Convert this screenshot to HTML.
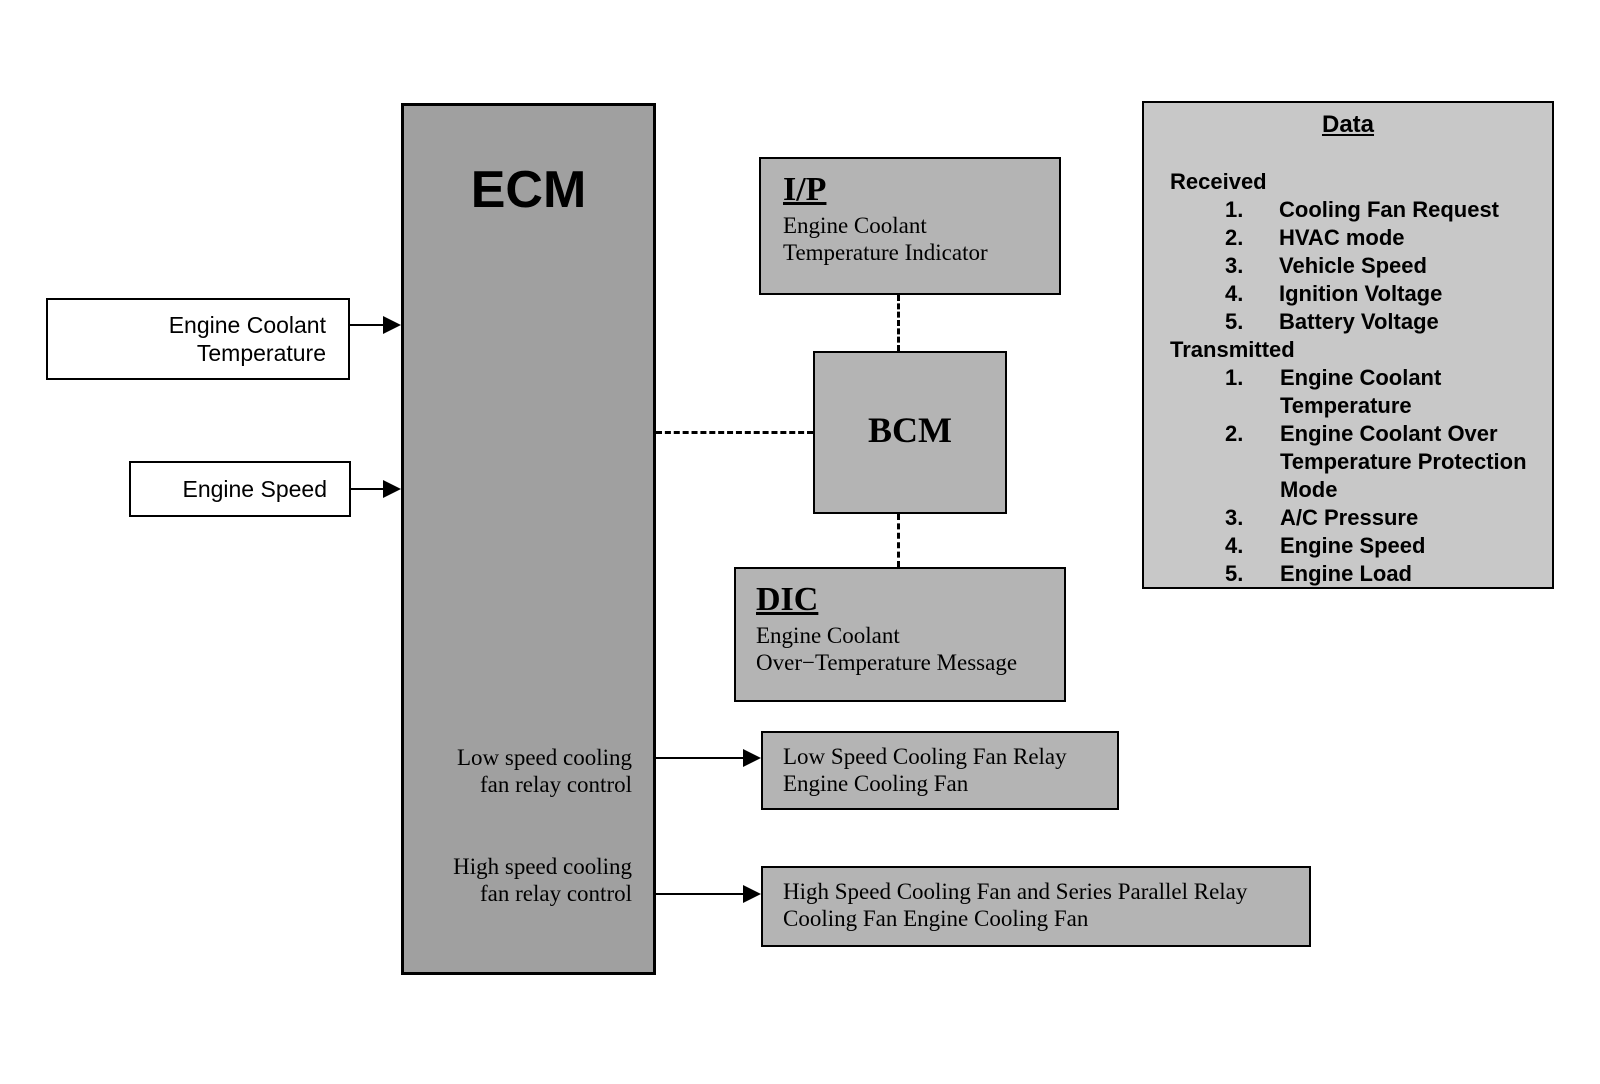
<!DOCTYPE html>
<html><head><meta charset="utf-8"><style>
body{margin:0;width:1600px;height:1084px;background:#fff;position:relative;overflow:hidden;font-family:"Liberation Sans",sans-serif;}
.b{position:absolute;box-sizing:border-box;border:2px solid #000;}
.g1{background:#a0a0a0;}
.g2{background:#b4b4b4;}
.g3{background:#c8c8c8;}
.t{position:absolute;white-space:nowrap;}
.s{font-family:"Liberation Serif",serif;font-size:23px;line-height:27px;}
.d{font-size:22px;line-height:28px;font-weight:bold;}
.h{position:absolute;height:2px;background:#000;}
.v{position:absolute;width:0;border-left:3px dashed #000;}
.hd{position:absolute;height:0;border-top:3px dashed #000;}
.ar{position:absolute;width:0;height:0;border-top:9px solid transparent;border-bottom:9px solid transparent;border-left:18px solid #000;}
</style></head><body>
<div class="b g1" style="left:401px;top:103px;width:255px;height:872px;border-width:3px;"></div>
<div class="t" style="left:401px;width:255px;top:160px;text-align:center;font-weight:bold;font-size:52px;">ECM</div>
<div class="t s" style="left:400px;width:232px;top:744px;text-align:right;">Low speed cooling<br>fan relay control</div>
<div class="t s" style="left:400px;width:232px;top:853px;text-align:right;">High speed cooling<br>fan relay control</div>

<div class="b" style="left:46px;top:298px;width:304px;height:82px;"></div>
<div class="t" style="left:46px;width:280px;top:311px;text-align:right;font-size:23px;line-height:28px;">Engine Coolant<br>Temperature</div>
<div class="b" style="left:129px;top:461px;width:222px;height:56px;"></div>
<div class="t" style="left:129px;width:198px;top:475px;text-align:right;font-size:23px;line-height:28px;">Engine Speed</div>
<div class="h" style="left:350px;top:324px;width:34px;"></div><div class="ar" style="left:383px;top:316px;"></div>
<div class="h" style="left:351px;top:488px;width:33px;"></div><div class="ar" style="left:383px;top:480px;"></div>

<div class="b g2" style="left:759px;top:157px;width:302px;height:138px;"></div>
<div class="t s" style="left:783px;top:172px;font-size:34px;font-weight:bold;text-decoration:underline;line-height:36px;">I/P</div>
<div class="t s" style="left:783px;top:212px;">Engine Coolant<br>Temperature Indicator</div>

<div class="b g2" style="left:813px;top:351px;width:194px;height:163px;"></div>
<div class="t s" style="left:813px;width:194px;top:410px;text-align:center;font-size:36px;font-weight:bold;line-height:40px;">BCM</div>
<div class="v" style="left:897px;top:295px;height:56px;"></div>
<div class="v" style="left:897px;top:514px;height:53px;"></div>
<div class="hd" style="left:656px;top:431px;width:157px;"></div>

<div class="b g2" style="left:734px;top:567px;width:332px;height:135px;"></div>
<div class="t s" style="left:756px;top:582px;font-size:34px;font-weight:bold;text-decoration:underline;line-height:36px;">DIC</div>
<div class="t s" style="left:756px;top:622px;">Engine Coolant<br>Over−Temperature Message</div>

<div class="b g2" style="left:761px;top:731px;width:358px;height:79px;"></div>
<div class="t s" style="left:783px;top:743px;">Low Speed Cooling Fan Relay<br>Engine Cooling Fan</div>
<div class="b g2" style="left:761px;top:866px;width:550px;height:81px;"></div>
<div class="t s" style="left:783px;top:878px;">High Speed Cooling Fan and Series Parallel Relay<br>Cooling Fan Engine Cooling Fan</div>
<div class="h" style="left:656px;top:757px;width:88px;"></div><div class="ar" style="left:743px;top:749px;"></div>
<div class="h" style="left:656px;top:893px;width:88px;"></div><div class="ar" style="left:743px;top:885px;"></div>

<div class="b g3" style="left:1142px;top:101px;width:412px;height:488px;"></div>
<div class="t" style="left:1142px;width:412px;top:111px;text-align:center;font-size:24px;font-weight:bold;text-decoration:underline;">Data</div>
<div class="t d" style="left:1170px;top:168px;">Received</div>
<div class="t d" style="left:1225px;top:196px;">1.<br>2.<br>3.<br>4.<br>5.</div>
<div class="t d" style="left:1279px;top:196px;">Cooling Fan Request<br>HVAC mode<br>Vehicle Speed<br>Ignition Voltage<br>Battery Voltage</div>
<div class="t d" style="left:1170px;top:336px;">Transmitted</div>
<div class="t d" style="left:1225px;top:364px;">1.<br><br>2.<br><br><br>3.<br>4.<br>5.</div>
<div class="t d" style="left:1280px;top:364px;">Engine Coolant<br>Temperature<br>Engine Coolant Over<br>Temperature Protection<br>Mode<br>A/C Pressure<br>Engine Speed<br>Engine Load</div>
</body></html>
